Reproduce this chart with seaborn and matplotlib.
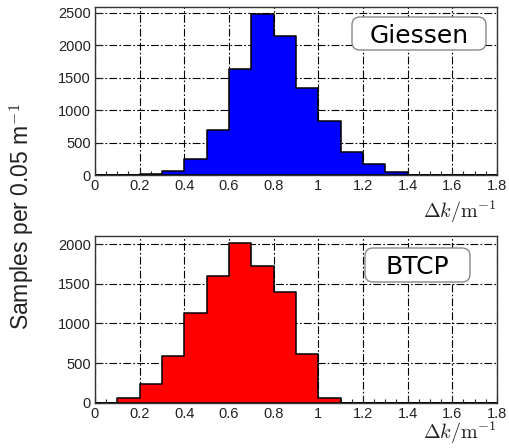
import numpy as np
import pandas as pd
import matplotlib
matplotlib.use("Agg")
import matplotlib.pyplot as plt
from matplotlib.patches import FancyBboxPatch
from matplotlib.transforms import IdentityTransform
import seaborn as sns

# Data
bin_edges = [0.0, 0.1, 0.2, 0.3, 0.4, 0.5, 0.6, 0.7, 0.8, 0.9, 1.0, 1.1, 1.2, 1.3, 1.4, 1.5, 1.6, 1.7, 1.8]
giessen_counts = [0, 0, 15, 68, 250, 690, 1630, 2485, 2143, 1340, 835, 353, 174, 42, 0, 0, 0, 0]
btcp_counts = [0, 55, 235, 588, 1129, 1593, 2021, 1720, 1400, 618, 59, 0, 0, 0, 0, 0, 0, 0]
x_ticks = [0, 0.2, 0.4, 0.6, 0.8, 1.0, 1.2, 1.4, 1.6, 1.8]
x_ticklabels = ["0", "0.2", "0.4", "0.6", "0.8", "1", "1.2", "1.4", "1.6", "1.8"]
giessen_yticks = [0, 500, 1000, 1500, 2000, 2500]
btcp_yticks = [0, 500, 1000, 1500, 2000]
labels = ["Giessen", "BTCP"]
colors = ["#0000ff", "#ff0000"]

sns.set_theme(style="white")
plt.rcParams['font.family'] = ['Liberation Sans', 'DejaVu Sans']
plt.rcParams['mathtext.fontset'] = 'cm'

W, H = 509, 448
fig = plt.figure(figsize=(W / 100, H / 100), dpi=100)
ax1 = fig.add_axes([0.1866, 0.609, 0.7898, 0.375])
ax2 = fig.add_axes([0.1866, 0.101, 0.7898, 0.373])

centers = [(bin_edges[i] + bin_edges[i + 1]) / 2 for i in range(len(bin_edges) - 1)]

# label box extents in pixels from top-left: (x0, y0, x1, y1)
panels = [
    (ax1, giessen_counts, giessen_yticks, 2585, labels[0], colors[0], (352, 17, 486, 50), 218),
    (ax2, btcp_counts, btcp_yticks, 2108, labels[1], colors[1], (365, 248, 470, 282), 439),
]
for ax, counts, yt, ymax, lab, col, box, xlab_px in panels:
    df = pd.DataFrame({"x": centers, "w": counts})
    df = df[df["w"] > 0]
    sns.histplot(data=df, x="x", weights="w", bins=bin_edges, ax=ax,
                 color=col, alpha=1.0, edgecolor="black", linewidth=1.1,
                 element="step", fill=True)
    ax.set_xlim(0, 1.8)
    ax.set_ylim(0, ymax)
    ax.set_xticks(x_ticks)
    ax.set_xticklabels(x_ticklabels)
    ax.set_xticks(np.arange(0, 1.8001, 0.05), minor=True)
    ax.set_yticks(yt)
    ax.set_ylabel("")
    ax.set_xlabel("")
    ax.set_axisbelow(True)
    ax.grid(True, which="major", color="black", linestyle=(0, (7, 2, 1.5, 2)), linewidth=0.8)
    for s in ax.spines.values():
        s.set_color("#333333")
        s.set_linewidth(1.0)
        s.set_zorder(5)
    ax.tick_params(axis="both", which="major", direction="in", length=5, width=0.8,
                   labelsize=10.5, colors="#222222", pad=3, top=False, right=False, bottom=True, left=True)
    ax.tick_params(axis="x", which="minor", direction="in", length=3, width=0.8, bottom=True, colors="#222222")

    x0, y0, x1, y1 = box
    r = 8
    patch = FancyBboxPatch((x0 + r, H - y1 + r), (x1 - x0) - 2 * r, (y1 - y0) - 2 * r,
                           boxstyle=f"round,pad={r},rounding_size={r}",
                           transform=IdentityTransform(), fc="white", ec="#888888", lw=1.0,
                           zorder=6)
    fig.add_artist(patch)
    fig.text((x0 + x1) / 2 / W, 1 - (y0 + y1) / 2 / H, lab, ha="center", va="center_baseline",
             fontsize=18, family="DejaVu Sans", color="black", zorder=7)
    fig.text(0.9764, 1 - xlab_px / H, r"$\Delta k/\mathrm{m}^{-1}$",
             ha="right", va="baseline", fontsize=14.5, color="#222222")

fig.text(0.043, 0.516, "Samples per 0.05 m$^{\\mathsf{-1}}$", rotation=90, ha="center", va="center",
         fontsize=16.5, color="#222222")

fig.savefig("out.png", dpi=100)
